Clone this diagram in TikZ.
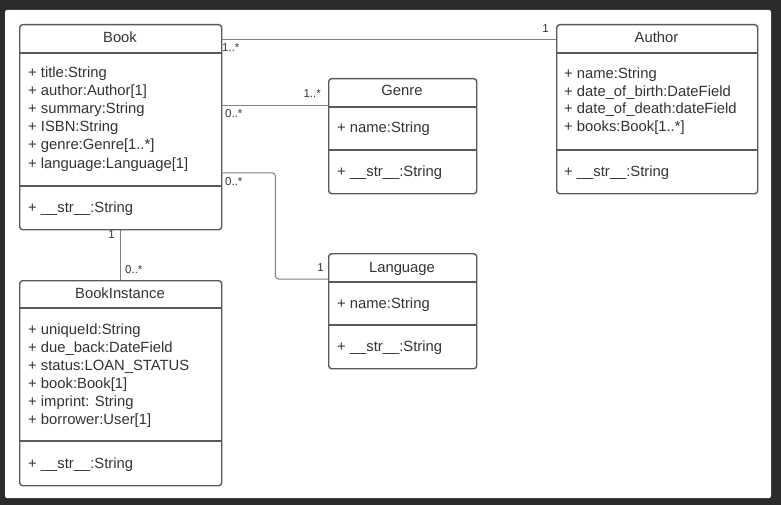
\documentclass[tikz,border=0pt]{standalone}
\usepackage{fontspec}
\setmainfont{Liberation Sans}
\usetikzlibrary{calc}
\definecolor{bgdark}{HTML}{2B2B2B}
\definecolor{boxline}{HTML}{595959}
\definecolor{conline}{HTML}{808080}
\definecolor{txt}{HTML}{333333}
\tikzset{
  classbox/.style={draw=boxline, line width=1.4pt, rounded corners=3pt, fill=white, anchor=north west, inner sep=0pt},
  sepline/.style={draw=boxline, line width=1.4pt},
  conn/.style={draw=conline, line width=1pt},
  ctitle/.style={anchor=base, text=txt, font=\fontsize{14.8}{16}\selectfont, inner sep=0pt},
  attr/.style={anchor=base west, text=txt, font=\fontsize{14.8}{16}\selectfont, inner sep=0pt},
  mult/.style={text=txt, font=\fontsize{11.5}{12}\selectfont, inner sep=0pt}
}
\begin{document}
\begin{tikzpicture}[x=1pt,y=-1pt]
\useasboundingbox (0,0) rectangle (781,505);
\fill[bgdark] (0,0) rectangle (781,505);
\fill[white, rounded corners=2pt] (5,10) rectangle (771,498);

% ---------- Book ----------
\node[classbox, minimum width=202pt, minimum height=205pt] (book) at (19,24) {};
\draw[sepline] (19,53) -- (221,53);
\draw[sepline] (19,186) -- (221,186);
\node[ctitle] (bookT) at (120,43) {Book};
\node[attr] (b1) at (28,78) {+ title:String};
\node[attr] (b2) at (28,96) {+ author:Author[1]};
\node[attr] (b3) at (28,114) {+ summary:String};
\node[attr] (b4) at (28,132) {+ ISBN:String};
\node[attr] (b5) at (28,150) {+ genre:Genre[1..*]};
\node[attr] (b6) at (28,168) {+ language:Language[1]};
\node[attr] (b7) at (28,212) {+ \_\_str\_\_:String};

% ---------- Genre ----------
\node[classbox, minimum width=148pt, minimum height=115pt] (genre) at (328,78) {};
\draw[sepline] (328,107) -- (476,107);
\draw[sepline] (328,150) -- (476,150);
\node[ctitle] (genreT) at (402,96) {Genre};
\node[attr] (g1) at (337,133) {+ name:String};
\node[attr] (g2) at (337,176) {+ \_\_str\_\_:String};

% ---------- Author ----------
\node[classbox, minimum width=201pt, minimum height=169pt] (author) at (556,24) {};
\draw[sepline] (556,53) -- (757,53);
\draw[sepline] (556,150) -- (757,150);
\node[ctitle] (authorT) at (656.5,43) {Author};
\node[attr] (a1) at (564,79) {+ name:String};
\node[attr] (a2) at (564,97) {+ date\_of\_birth:DateField};
\node[attr] (a3) at (564,114) {+ date\_of\_death:dateField};
\node[attr] (a4) at (564,132) {+ books:Book[1..*]};
\node[attr] (a5) at (564,176) {+ \_\_str\_\_:String};

% ---------- Language ----------
\node[classbox, minimum width=148pt, minimum height=115pt] (lang) at (328,253) {};
\draw[sepline] (328,282) -- (476,282);
\draw[sepline] (328,325) -- (476,325);
\node[ctitle] (langT) at (402,272) {Language};
\node[attr] (l1) at (337,308) {+ name:String};
\node[attr] (l2) at (337,351) {+ \_\_str\_\_:String};

% ---------- BookInstance ----------
\node[classbox, minimum width=202pt, minimum height=205pt] (inst) at (19,280) {};
\draw[sepline] (19,308) -- (221,308);
\draw[sepline] (19,441) -- (221,441);
\node[ctitle] (instT) at (120,298) {BookInstance};
\node[attr] (i1) at (28,334) {+ uniqueId:String};
\node[attr] (i2) at (28,352) {+ due\_back:DateField};
\node[attr] (i3) at (28,370) {+ status:LOAN\_STATUS};
\node[attr] (i4) at (28,388) {+ book:Book[1]};
\node[attr] (i5) at (28,406) {+ imprint: String};
\node[attr] (i6) at (28,424) {+ borrower:User[1]};
\node[attr] (i7) at (28,468) {+ \_\_str\_\_:String};

% ---------- connectors ----------
\coordinate (bA) at ([yshift=-16pt]book.north east);
\coordinate (aA) at ([yshift=-16pt]author.north west);
\draw[conn] (bA) -- (aA);
\node[mult, anchor=west] (m1) at (222,48) {1..*};
\node[mult, anchor=east] (m2) at (549,29) {1};

\coordinate (gA) at ([yshift=-28pt]genre.north west);
\draw[conn] (gA -| book.east) -- (gA);
\node[mult, anchor=east] (m3) at (321,94) {1..*};
\node[mult, anchor=west] (m4) at (225,114) {0..*};

\coordinate (bL) at ([yshift=-149pt]book.north east);
\coordinate (lA) at ([yshift=-26pt]lang.north west);
\draw[conn, rounded corners=3pt] (bL) -- ++(53,0) |- (lA);
\node[mult, anchor=west] (m5) at (225,182) {0..*};
\node[mult, anchor=east] (m6) at (324,268) {1};

\draw[conn] (book.south) -- (inst.north);
\node[mult, anchor=east] (m7) at (115,235) {1};
\node[mult, anchor=west] (m8) at (125,270) {0..*};
\end{tikzpicture}
\end{document}
